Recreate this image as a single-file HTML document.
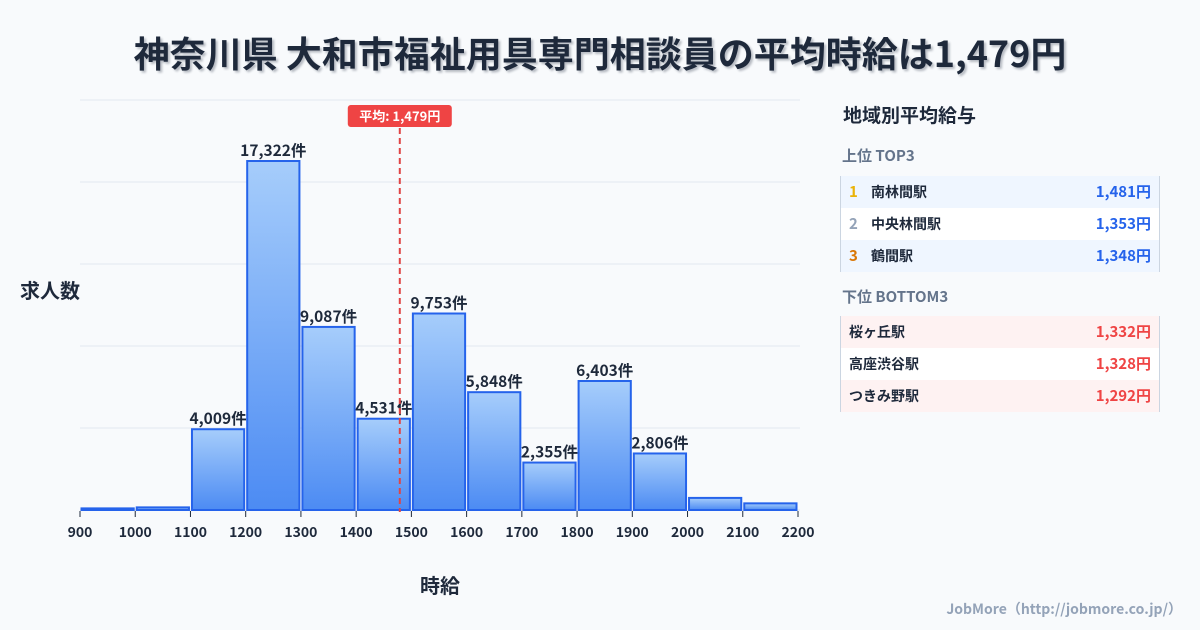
<!DOCTYPE html>
<html><head><meta charset="utf-8"><style>
body{margin:0;width:1200px;height:630px;background:#f8fafc;font-family:"Noto Sans CJK JP","Liberation Sans",sans-serif;overflow:hidden;position:relative;color:#1e293b}
.t{position:absolute;white-space:nowrap;line-height:1.2}
.row{position:absolute;left:840px;width:320px;height:32px;border-left:1px solid #cbd5e1;border-right:1px solid #cbd5e1;box-sizing:border-box;font-size:14px;font-weight:bold}
.row span{position:absolute;top:8px;line-height:1.2}
.row .v{right:8px;font-size:15px;top:7px}
</style></head><body>
<div class="t" style="left:0;width:1200px;text-align:center;top:31px;font-size:36px;font-weight:bold;line-height:1.2;color:#1e293b;text-shadow:2px 2px 2px rgba(30,41,59,0.3)">神奈川県 大和市福祉用具専門相談員の平均時給は1,479円</div>
<svg id="c" width="1200" height="630" style="position:absolute;left:0;top:0;font-family:'Noto Sans CJK JP',sans-serif">
<defs><linearGradient id="g" x1="0" y1="0" x2="0" y2="1"><stop offset="0" stop-color="#a6cdfb"/><stop offset="1" stop-color="#4c8bf3"/></linearGradient></defs>
</svg>
<div class="t" style="left:20px;top:278px;font-size:20px;font-weight:bold">求人数</div>
<div class="t" style="left:420px;top:573px;font-size:20px;font-weight:bold">時給</div>
<div class="t" style="right:18px;top:601px;font-size:14px;font-weight:bold;color:#94a3b8">JobMore（http://jobmore.co.jp/）</div>
<div class="t" style="left:843px;top:104px;font-size:19px;font-weight:bold">地域別平均給与</div>
<div class="t" style="left:842px;top:147px;font-size:15px;font-weight:bold;color:#64748b">上位 TOP3</div>
<div class="row" style="top:176px;background:#eff6ff"><span style="left:8px;color:#eab308;font-size:15px;top:7px">1</span><span style="left:30px">南林間駅</span><span class="v" style="color:#2563eb">1,481円</span></div>
<div class="row" style="top:208px;background:#fff"><span style="left:8px;color:#94a3b8;font-size:15px;top:7px">2</span><span style="left:30px">中央林間駅</span><span class="v" style="color:#2563eb">1,353円</span></div>
<div class="row" style="top:240px;background:#eff6ff"><span style="left:8px;color:#d97706;font-size:15px;top:7px">3</span><span style="left:30px">鶴間駅</span><span class="v" style="color:#2563eb">1,348円</span></div>
<div class="t" style="left:842px;top:288px;font-size:15px;font-weight:bold;color:#64748b">下位 BOTTOM3</div>
<div class="row" style="top:316px;background:#fef2f2"><span style="left:8px">桜ヶ丘駅</span><span class="v" style="color:#ef4444">1,332円</span></div>
<div class="row" style="top:348px;background:#fff"><span style="left:8px">高座渋谷駅</span><span class="v" style="color:#ef4444">1,328円</span></div>
<div class="row" style="top:380px;background:#fef2f2"><span style="left:8px">つきみ野駅</span><span class="v" style="color:#ef4444">1,292円</span></div>
<script>
const binStarts=[900,1000,1100,1200,1300,1400,1500,1600,1700,1800,1900,2000,2100];
const counts=[80,130,4009,17322,9087,4531,9753,5848,2355,6403,2806,600,330];
const labeled=[false,false,true,true,true,true,true,true,true,true,true,false,false];
const xTicks=[900,1000,1100,1200,1300,1400,1500,1600,1700,1800,1900,2000,2100,2200];
const meanValue=1479;
const NS='http://www.w3.org/2000/svg',svg=document.getElementById('c');
const X=v=>80+(v-900)*(718/1300);
const Y=v=>510-v*(410/20350);
function el(t,a,p){const e=document.createElementNS(NS,t);for(const k in a)e.setAttribute(k,a[k]);(p||svg).appendChild(e);return e;}
const fmt=n=>n.toLocaleString('en-US');
for(let i=0;i<=5;i++){const g=el('line',{x1:80,x2:800,y1:510-i*82,y2:510-i*82,stroke:'#e2e8f0','stroke-width':1});

}
binStarts.forEach((b,i)=>{const x0=X(b)+1.5,x1=X(b+100)-1.5,y=Y(counts[i]);
const r=el('rect',{x:x0,y:y,width:x1-x0,height:510-y,fill:'url(#g)',stroke:'#2563eb','stroke-width':2});


if(labeled[i]){const t=el('text',{x:(x0+x1)/2,y:y-5,'text-anchor':'middle','font-size':15.5,'font-weight':'bold',fill:'#1e293b'});t.textContent=fmt(counts[i])+'件';

}});
xTicks.forEach(v=>{const l=el('line',{x1:X(v),x2:X(v),y1:511,y2:517,stroke:'#1e293b'});


const t=el('text',{x:X(v),y:537,'text-anchor':'middle','font-size':14,'font-weight':'bold',fill:'#1e293b'});t.textContent=v;

});
const mx=X(meanValue);
const ml=el('line',{x1:mx,x2:mx,y1:128,y2:512,stroke:'#e04545','stroke-width':2,'stroke-dasharray':'6,4'});


const mb=el('rect',{x:mx-52,y:105,width:104,height:22,rx:3,fill:'#ef4444'});


const mt=el('text',{x:mx,y:121,'text-anchor':'middle','font-size':13,'font-weight':'bold',fill:'#fff'});mt.textContent='平均: '+fmt(meanValue)+'円';


</script>
</body></html>
